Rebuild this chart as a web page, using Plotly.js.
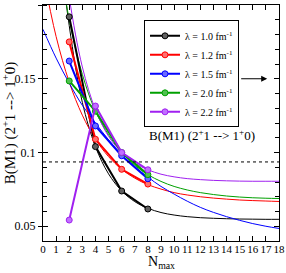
<!DOCTYPE html>
<html>
<head>
<meta charset="utf-8">
<script src="https://cdn.plot.ly/plotly-3.0.1.min.js"></script>
<style>html,body{margin:0;padding:0;background:#fff;}#chart{width:286px;height:273px;}</style>
</head>
<body>
<div id="chart"></div>
<script>
// Calculated points (Nmax = 2,4,6,8)
const nmaxPts = [2, 4, 6, 8];
const b10 = [0.192, 0.104, 0.0739, 0.0617];
const b12 = [0.175, 0.109, 0.0886, 0.0786];
const b15 = [0.162, 0.118, 0.0978, 0.0822];
const b20 = [0.1485, 0.128, 0.100, 0.085];
const b22 = [0.0542, 0.1315, 0.100, 0.0883];

// Extrapolation curves
const nmaxFit = [0, 1, 2, 3, 4, 5, 6, 7, 8, 9, 10, 11, 12, 13, 14, 15, 16, 17, 18];
const f10 = [0.374, 0.262, 0.186, 0.134, 0.104, 0.0855, 0.074, 0.0667, 0.0622, 0.0593, 0.0576, 0.0565, 0.0558, 0.0554, 0.0551, 0.0549, 0.0548, 0.0547, 0.0547];
const f12 = [0.221, 0.1786, 0.1477, 0.1253, 0.109, 0.0972, 0.0886, 0.0826, 0.0782, 0.0752, 0.0728, 0.0712, 0.0700, 0.0691, 0.0684, 0.0678, 0.0674, 0.0671, 0.0668];
const f15 = [0.1835, 0.164, 0.147, 0.132, 0.120, 0.1086, 0.0985, 0.0905, 0.0833, 0.077, 0.0718, 0.0670, 0.0628, 0.0594, 0.0565, 0.0540, 0.0518, 0.0500, 0.0485];
const f20 = [0.282, 0.245, 0.190, 0.153, 0.128, 0.112, 0.100, 0.0913, 0.085, 0.0804, 0.0770, 0.0746, 0.0728, 0.0715, 0.0705, 0.0698, 0.0693, 0.0690, 0.0688];
const f22 = [0.36, 0.27, 0.205, 0.158, 0.129, 0.111, 0.100, 0.0929, 0.0883, 0.0853, 0.0835, 0.0823, 0.0816, 0.0811, 0.0808, 0.0806, 0.0805, 0.0805, 0.0805];

const labels = ['λ = 1.0 fm<sup>-1</sup>', 'λ = 1.2 fm<sup>-1</sup>', 'λ = 1.5 fm<sup>-1</sup>', 'λ = 2.0 fm<sup>-1</sup>', 'λ = 2.2 fm<sup>-1</sup>'];
const yTickVals = [0.05, 0.1, 0.15, 0.2];
const yTickText = ['0.05', '0.1', '0.15', '0.2'];
const refLine = 0.0936;

const colors = ['#000000', '#ff0000', '#0000ff', '#00a000', '#a020f0'];
const fills = ['#606060', '#ff7070', '#6a6aff', '#50c050', '#c070ff'];
const pts = [b10, b12, b15, b20, b22];
const fits = [f10, f12, f15, f20, f22];

const FONT = 'Liberation Serif, Times New Roman, serif';
const traces = [];
fits.forEach((f, i) => {
  traces.push({x: nmaxFit, y: f, mode: 'lines', line: {color: colors[i], width: 1, shape: 'spline'}, showlegend: false, hoverinfo: 'skip'});
});
pts.forEach((p, i) => {
  traces.push({x: nmaxPts, y: p, mode: 'lines+markers', name: labels[i],
    line: {color: colors[i], width: 2},
    marker: {size: 6, color: fills[i], line: {color: colors[i], width: 1}}});
});
traces.push({x: [], y: [], yaxis: 'y2', showlegend: false, hoverinfo: 'skip'});
traces.push({x: [], y: [], yaxis: 'y3', showlegend: false, hoverinfo: 'skip'});

const layout = {
  width: 286, height: 273,
  margin: {l: 43, r: 7, t: 5, b: 32},
  paper_bgcolor: '#fff', plot_bgcolor: '#fff',
  font: {family: FONT, color: '#000', size: 12},
  showlegend: true,
  legend: {x: 0.428, y: 0.935, xanchor: 'left', yanchor: 'top', bgcolor: '#fff', bordercolor: '#000', borderwidth: 1,
    font: {family: FONT, size: 10}, tracegroupgap: 0, itemwidth: 30},
  xaxis: {range: [0, 18], dtick: 1, tick0: 0, ticks: 'inside', ticklen: 5, tickcolor: '#000', tickangle: 0,
    ticklabelstandoff: -2,
    showline: true, linecolor: '#000', linewidth: 1, mirror: 'ticks', showgrid: false, zeroline: false,
    tickfont: {family: FONT, size: 11}},
  yaxis: {range: [0.04, 0.2], tickvals: yTickVals, ticktext: yTickText, ticks: 'outside', ticklen: 4, tickcolor: '#000',
    showline: true, linecolor: '#000', linewidth: 1, mirror: true, showgrid: false, zeroline: false,
    tickfont: {family: FONT, size: 12},
    minor: {ticks: 'inside', dtick: 0.01, tick0: 0, ticklen: 4, tickcolor: '#000', showgrid: false},
    title: {text: 'B(M1) (2<sup>+</sup>1 --&gt; 1<sup>+</sup>0)', font: {family: FONT, size: 15}, standoff: 4}},
  yaxis2: {range: [0.04, 0.2], overlaying: 'y', side: 'right', anchor: 'x', tickvals: yTickVals, ticks: 'inside', ticklen: 5,
    tickcolor: '#000', showticklabels: false, showgrid: false, zeroline: false, showline: false,
    minor: {ticks: 'inside', dtick: 0.01, tick0: 0, ticklen: 4, tickcolor: '#000', showgrid: false}},
  yaxis3: {range: [0.04, 0.2], overlaying: 'y', side: 'left', anchor: 'x', tickvals: yTickVals, ticks: 'inside', ticklen: 5,
    tickcolor: '#000', showticklabels: false, showgrid: false, zeroline: false, showline: false},
  shapes: [{type: 'line', xref: 'x', yref: 'y', x0: 0, x1: 18, y0: refLine, y1: refLine,
    line: {color: '#000', width: 1, dash: 'dot'}}],
  annotations: [
    {x: 17.1, y: 0.15, ax: 15.0, ay: 0.15, xref: 'x', yref: 'y', axref: 'x', ayref: 'y', text: '',
      showarrow: true, arrowhead: 2, arrowsize: 1, arrowwidth: 1.2, arrowcolor: '#000'},
    {x: 12.1, y: 0.112, xref: 'x', yref: 'y', text: 'B(M1) (2<sup>+</sup>1 --&gt; 1<sup>+</sup>0)',
      showarrow: false, font: {family: FONT, size: 13, color: '#000'}},
    {x: 0.5, y: -0.133, xref: 'paper', yref: 'paper', xanchor: 'center', yanchor: 'bottom', text: 'N<sub>max</sub>',
      showarrow: false, borderpad: 0, font: {family: FONT, size: 14, color: '#000'}}
  ]
};

Plotly.newPlot('chart', traces, layout, {displayModeBar: false, staticPlot: true});
</script>
</body>
</html>
